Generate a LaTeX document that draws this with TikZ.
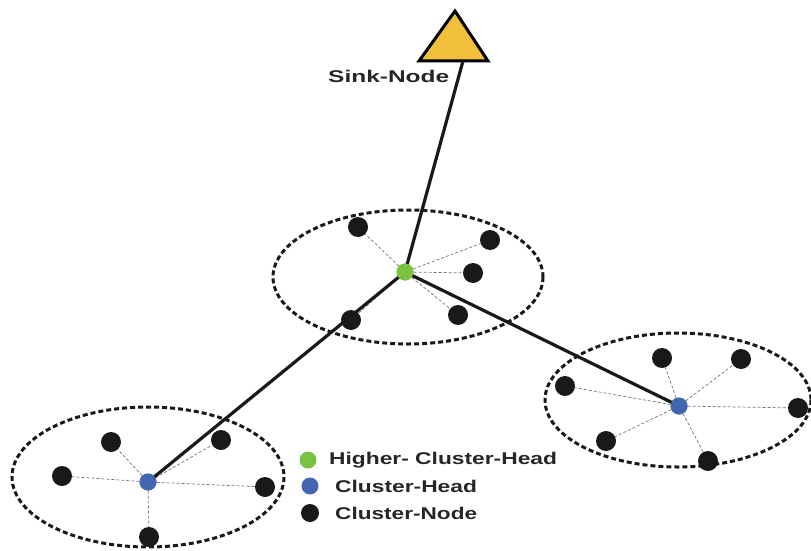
\documentclass[tikz,border=0pt]{standalone}
\usepackage{fontspec}
\setmainfont{Liberation Sans}
\begin{document}
\begin{tikzpicture}[x=1pt,y=-1pt,
  cnode/.style={circle,fill=black!90,inner sep=0pt,minimum size=20pt},
  chead/.style={circle,fill=headblue,inner sep=0pt,minimum size=17pt},
  hhead/.style={circle,fill=hgreen,inner sep=0pt,minimum size=17pt},
  cluster/.style={draw=black!90,line width=3pt,dash pattern=on 5pt off 3pt},
  link/.style={draw=black!90,line width=3.2pt},
  sub/.style={draw=black!55,line width=0.7pt,dash pattern=on 3pt off 2pt},
  lbl/.style={font=\bfseries\fontsize{17}{20}\selectfont,text=black!85,anchor=west,inner sep=0pt}]
\definecolor{headblue}{HTML}{4466B0}
\definecolor{hgreen}{HTML}{7CC242}
\definecolor{sinky}{HTML}{F0C03C}
\useasboundingbox (0,0) rectangle (811,551);
% ellipses
\draw[cluster] (408,277) ellipse [x radius=135, y radius=67];
\draw[cluster] (678,400) ellipse [x radius=133, y radius=67];
\draw[cluster] (148,477) ellipse [x radius=136, y radius=70];
% sink
\draw[line width=3pt,fill=sinky,line join=miter] (419,61) -- (455,11) -- (488,61) -- cycle;
\coordinate (sink) at (463,61);
\node[lbl] (sinklbl) at (328,76) {\scalebox{1.44}[1]{Sink-Node}};
% heads
\node[hhead] (g) at (405,272) {};
\node[chead] (b1) at (679,406) {};
\node[chead] (b2) at (148,482) {};
% top cluster nodes
\node[cnode] (t1) at (358,227) {};
\node[cnode] (t2) at (490,240) {};
\node[cnode] (t3) at (473,273) {};
\node[cnode] (t4) at (458,315) {};
\node[cnode] (t5) at (351,320) {};
% right cluster
\node[cnode] (r1) at (662,358) {};
\node[cnode] (r2) at (741,359) {};
\node[cnode] (r3) at (565,386) {};
\node[cnode] (r4) at (798,408) {};
\node[cnode] (r5) at (606,441) {};
\node[cnode] (r6) at (708,461) {};
% left cluster
\node[cnode] (l1) at (111,442) {};
\node[cnode] (l2) at (221,440) {};
\node[cnode] (l3) at (62,476) {};
\node[cnode] (l4) at (265,487) {};
\node[cnode] (l5) at (149,537) {};
% sub links
\foreach \n in {t1,t2,t3,t4,t5} \draw[sub] (g) -- (\n);
\foreach \n in {r1,r2,r3,r4,r5,r6} \draw[sub] (b1) -- (\n);
\foreach \n in {l1,l2,l3,l4,l5} \draw[sub] (b2) -- (\n);
% main links
\draw[link] (sink) -- (g.center);
\draw[link] (g.center) -- (b1.center);
\draw[link] (g.center) -- (b2.center);
\node[hhead] at (405,272) {};
\node[chead] at (679,406) {};
\node[chead] at (148,482) {};
% legend
\node[hhead] (lg1) at (308,460) {};
\node[chead] (lg2) at (310,486) {};
\node[cnode,minimum size=18pt] (lg3) at (310,513) {};
\node[lbl] (lt1) at (329,460) {\scalebox{1.34}[1]{Higher- Cluster-Head}};
\node[lbl] (lt2) at (335,486) {\scalebox{1.34}[1]{Cluster-Head}};
\node[lbl] (lt3) at (335,513) {\scalebox{1.33}[1]{Cluster-Node}};
\end{tikzpicture}
\end{document}
